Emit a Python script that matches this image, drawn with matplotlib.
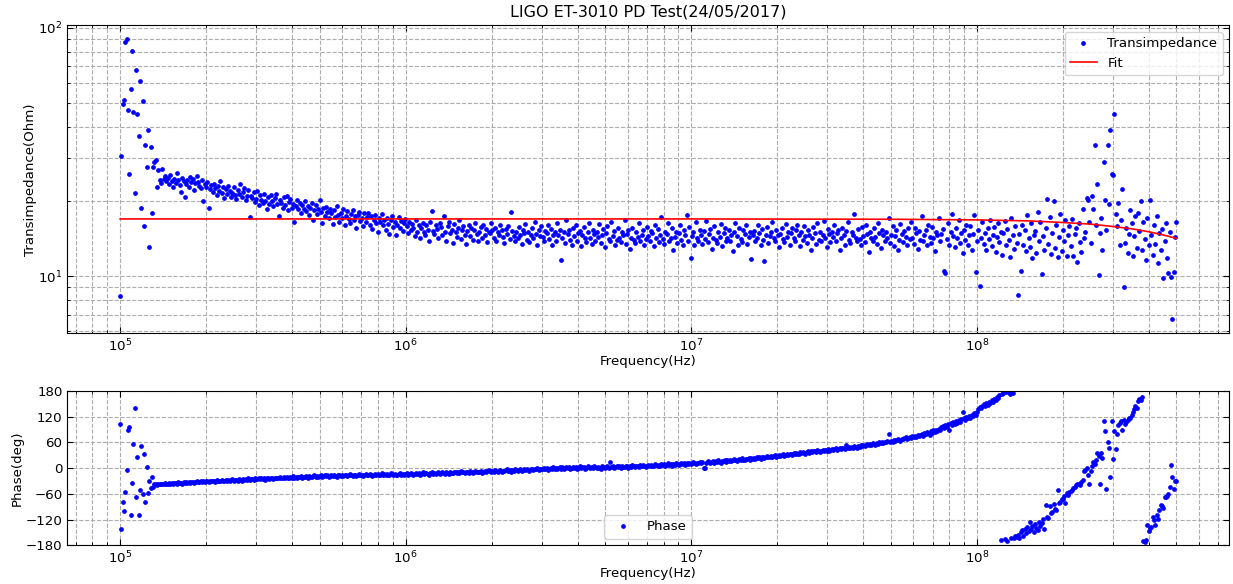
import numpy as np
import matplotlib
matplotlib.use("Agg")
import matplotlib.pyplot as plt

# ---------------- data ----------------
f_start, f_stop = 1e5, 5e8   # log sweep of the analyser

magnitude = [
    8.3, 30.5, 49.3, 51.4, 87.7, 90.0, 46.6, 25.8, 56.5, 80.9, 45.8, 21.7, 67.5, 44.9, 36.7, 61.4, 18.9, 50.7, 15.9, 33.8,
    27.4, 38.8, 13.1, 33.0, 18.0, 27.5, 28.9, 29.4, 22.8, 26.8, 24.5, 23.8, 27.0, 24.6, 25.3, 24.1, 24.8, 23.5, 25.6, 24.2,
    22.9, 24.7, 23.8, 26.0, 24.3, 23.3, 21.9, 24.8, 24.1, 20.9, 23.6, 24.4, 22.8, 25.1, 23.9, 24.6, 22.2, 23.7, 25.4, 24.0,
    23.1, 22.6, 24.3, 20.1, 23.5, 22.9, 24.0, 18.8, 22.4, 23.2, 21.8, 23.6, 22.7, 21.3, 23.0, 22.1, 24.2, 21.6, 22.9, 20.6,
    22.5, 21.4, 23.1, 22.0, 20.9, 21.7, 22.8, 21.2, 20.4, 22.3, 21.5, 23.5, 20.8, 21.9, 22.6, 20.2, 21.1, 22.2, 17.3, 21.0,
    20.7, 21.8, 19.9, 20.5, 22.0, 19.4, 21.2, 20.3, 19.8, 21.5, 20.1, 18.6, 20.9, 19.6, 21.3, 20.0, 19.2, 20.6, 21.4, 19.5,
    17.5, 20.2, 19.7, 18.9, 20.8, 19.3, 21.0, 18.4, 19.9, 20.4, 18.8, 19.5, 16.5, 19.1, 20.3, 18.6, 19.8, 17.9, 19.4, 18.7,
    20.1, 18.3, 19.2, 17.6, 18.9, 19.7, 16.9, 18.5, 19.3, 17.8, 18.6, 20.2, 18.1, 16.3, 18.8, 17.4, 19.0, 18.2, 17.1, 18.7,
    17.9, 16.2, 18.4, 17.3, 19.1, 17.7, 16.6, 18.0, 17.2, 18.6, 16.0, 17.5, 18.3, 17.0, 16.4, 17.8, 18.5, 16.8, 17.4, 15.6,
    17.6, 18.2, 16.7, 17.1, 15.9, 17.9, 16.5, 17.3, 18.0, 16.1, 17.4, 15.5, 16.9, 17.7, 16.3, 15.1, 17.2, 16.6, 17.8, 16.0,
    16.8, 15.4, 17.1, 16.2, 14.8, 16.9, 17.4, 15.8, 16.5, 14.6, 16.1, 17.3, 15.6, 16.7, 15.2, 16.4, 17.0, 15.9, 14.9, 16.6,
    15.3, 16.2, 15.7, 14.5, 16.8, 15.1, 16.0, 14.2, 15.6, 16.4, 15.0, 14.7, 16.1, 15.4, 13.9, 16.6, 18.3, 15.2, 14.8, 16.0,
    15.5, 14.3, 16.3, 15.8, 14.6, 17.4, 15.1, 13.8, 15.9, 16.5, 14.9, 15.3, 13.6, 16.2, 15.0, 14.4, 15.7, 16.8, 14.1, 15.4,
    15.9, 14.7, 13.5, 15.2, 16.0, 14.5, 15.6, 14.0, 15.3, 16.4, 14.8, 13.9, 15.1, 15.8, 14.3, 16.1, 14.6, 15.5, 13.7, 15.0,
    14.9, 16.3, 15.4, 14.2, 15.7, 13.8, 15.0, 14.6, 16.0, 15.3, 14.4, 13.6, 15.5, 14.8, 15.9, 14.1, 18.1, 15.2, 14.5, 13.9,
    15.1, 14.3, 15.8, 14.7, 13.5, 15.4, 14.9, 16.2, 14.0, 15.0, 13.7, 14.6, 15.6, 14.2, 16.5, 14.8, 13.4, 15.3, 14.5, 15.9,
    14.4, 13.8, 15.2, 14.9, 16.1, 14.1, 15.5, 13.3, 14.7, 15.0, 13.9, 16.3, 14.6, 15.4, 11.6, 14.3, 15.1, 13.6, 16.8, 14.8,
    15.3, 14.0, 13.4, 15.7, 14.5, 16.0, 13.8, 14.9, 15.2, 13.2, 14.6, 15.8, 14.3, 13.7, 15.0, 16.4, 14.2, 13.5, 15.4, 14.8,
    13.9, 15.1, 14.4, 16.2, 13.6, 14.7, 15.5, 13.1, 14.9, 15.9, 14.1, 13.8, 16.6, 14.5, 15.2, 13.4, 14.0, 15.6, 14.3, 13.7,
    15.0, 14.6, 16.9, 13.5, 14.8, 15.3, 12.9, 14.2, 15.7, 14.0, 13.6, 15.1, 14.4, 16.3, 13.9, 14.7, 15.4, 13.3, 14.1, 15.8,
    14.5, 13.8, 15.2, 14.9, 13.2, 16.0, 14.3, 15.5, 13.7, 14.6, 17.3, 14.1, 13.5, 15.0, 14.8, 16.4, 13.9, 14.2, 15.6, 12.8,
    14.4, 15.1, 13.6, 14.9, 16.1, 14.0, 13.4, 15.3, 14.7, 17.6, 13.8, 15.8, 11.8, 14.5, 15.0, 13.3, 16.5, 14.2, 13.9, 15.4,
    14.6, 13.5, 15.2, 14.1, 16.7, 13.7, 14.8, 15.5, 12.9, 14.3, 15.9, 14.0, 13.6, 15.1, 14.4, 16.2, 13.2, 14.9, 15.6, 13.8,
    14.2, 15.3, 13.9, 14.7, 12.6, 15.0, 16.3, 14.5, 13.4, 15.7, 14.1, 13.7, 15.4, 14.8, 16.0, 13.5, 14.4, 15.1, 11.7, 14.6,
    15.2, 13.8, 14.3, 16.1, 14.9, 13.3, 15.5, 14.0, 11.5, 14.7, 15.8, 13.6, 14.5, 15.0, 16.6, 14.2, 13.9, 15.3, 14.6, 13.1,
    14.8, 15.6, 14.1, 13.7, 16.2, 14.4, 15.0, 13.4, 14.9, 15.7, 14.3, 13.8, 15.4, 16.0, 14.6, 13.2, 15.1, 14.0, 15.9, 14.5,
    13.6, 15.3, 14.7, 12.8, 14.2, 15.8, 14.9, 13.5, 16.3, 14.0, 15.1, 13.9, 14.6, 16.7, 14.3, 13.1, 15.5, 14.8, 13.7, 15.0,
    14.4, 16.1, 13.8, 14.9, 15.4, 12.7, 14.2, 15.7, 14.6, 13.4, 15.2, 16.5, 14.0, 13.6, 15.0, 14.7, 17.8, 14.3, 13.9, 15.5,
    14.1, 13.3, 15.8, 14.5, 13.7, 16.0, 14.8, 12.5, 15.1, 14.2, 13.8, 15.6, 14.4, 13.5, 16.4, 14.9, 13.0, 15.3, 14.6, 13.9,
    15.0, 14.3, 17.1, 13.6, 14.7, 15.9, 13.2, 14.5, 15.4, 12.8, 14.0, 16.2, 14.8, 13.7, 15.2, 14.4, 13.4, 15.7, 14.1, 16.6,
    14.3, 13.5, 15.6, 14.9, 12.9, 15.2, 14.0, 17.5, 13.8, 14.6, 15.3, 13.3, 16.0, 14.4, 13.6, 15.8, 14.2, 12.6, 15.0, 14.7,
    17.2, 13.9, 14.8, 15.5, 10.5, 10.3, 14.1, 16.3, 13.4, 15.0, 17.8, 14.5, 13.1, 15.7, 14.2, 16.8, 13.6, 14.9, 12.4, 15.3,
    14.0, 16.1, 13.3, 14.6, 15.9, 12.7, 14.8, 17.6, 10.4, 13.8, 15.4, 9.1, 14.3, 16.5, 13.5, 14.9, 12.8, 15.6, 14.1, 16.9,
    13.2, 14.7, 15.8, 12.5, 14.4, 16.3, 13.7, 15.1, 12.2, 14.9, 16.7, 13.4, 15.5, 14.0, 11.9, 17.1, 14.6, 12.9, 15.9, 13.6,
    8.4, 14.8, 10.5, 16.0, 13.3, 15.4, 12.6, 17.6, 14.2, 13.1, 16.4, 11.8, 14.7, 15.2, 12.4, 18.1, 13.9, 16.6, 10.2, 14.5,
    12.7, 15.7, 20.4, 13.5, 17.3, 12.3, 14.9, 20.0, 13.0, 16.1, 11.9, 14.4, 17.8, 12.6, 15.3, 13.8, 16.8, 12.1, 14.6, 15.9,
    13.2, 17.0, 12.0, 14.8, 15.6, 11.4, 16.4, 13.7, 12.5, 18.6, 14.3, 15.1, 20.6, 20.3, 16.5, 13.6, 21.0, 18.6, 33.7, 16.0,
    23.6, 10.1, 14.9, 17.2, 12.8, 28.8, 20.3, 15.4, 33.7, 19.5, 38.8, 25.9, 25.5, 44.9, 17.8, 15.9, 19.7, 13.4, 16.9, 22.5,
    9.0, 13.6, 15.7, 12.4, 14.8, 18.4, 16.3, 12.1, 14.5, 17.5, 13.0, 18.0, 15.2, 20.1, 12.8, 16.6, 14.1, 11.6, 17.1, 13.3,
    20.3, 14.7, 12.2, 16.0, 13.5, 17.4, 11.3, 14.9, 12.7, 15.5, 9.8, 13.9, 16.3, 11.8, 10.3, 15.0, 9.9, 6.7, 10.4, 14.4,
    16.5,
]

phase = [
    103, -143, -79, -100, -56, -4, 88, 96, -110, -35, 56, 140, -68, 25, -110, -51, 52, -61, 32, -80,
    2, -58, -30, -47, -21, -45, -38, -37, -39, -36, -38, -37, -36, -38, -35, -37, -36, -34, -37, -35,
    -36, -34, -35, -36, -33, -35, -34, -36, -33, -34, -32, -35, -33, -34, -32, -33, -35, -32, -31, -33,
    -32, -31, -33, -30, -32, -31, -29, -32, -30, -31, -29, -30, -32, -28, -30, -29, -31, -28, -30, -29,
    -28, -30, -27, -29, -28, -26, -29, -27, -28, -30, -26, -27, -29, -25, -28, -26, -27, -24, -27, -26,
    -25, -27, -24, -26, -25, -23, -26, -24, -25, -22, -27, -24, -23, -25, -22, -24, -26, -23, -22, -24,
    -23, -21, -24, -22, -20, -23, -21, -24, -22, -20, -23, -19, -22, -21, -23, -20, -21, -19, -22, -20,
    -21, -19, -22, -18, -20, -21, -19, -17, -20, -18, -21, -19, -17, -20, -18, -16, -19, -17, -20, -18,
    -17, -19, -16, -18, -20, -17, -15, -18, -16, -19, -17, -15, -18, -16, -14, -17, -19, -15, -16, -18,
    -16, -14, -17, -15, -18, -16, -13, -15, -17, -14, -16, -18, -15, -13, -16, -14, -17, -15, -12, -15,
    -14, -16, -13, -17, -15, -12, -14, -16, -13, -15, -17, -14, -12, -15, -13, -16, -14, -11, -15, -13,
    -12, -14, -16, -13, -11, -14, -12, -15, -13, -10, -14, -12, -11, -13, -15, -12, -10, -13, -11, -14,
    -12, -10, -13, -11, -9, -12, -14, -10, -11, -13, -9, -11, -12, -8, -10, -12, -9, -11, -7, -10,
    -9, -11, -8, -10, -12, -7, -9, -11, -8, -6, -10, -8, -9, -7, -11, -8, -6, -9, -7, -5,
    -7, -9, -6, -8, -5, -7, -10, -6, -4, -8, -6, -7, -5, -3, -7, -5, -8, -4, -6, -3,
    -5, -7, -4, -2, -6, -4, -3, -5, -1, -4, -6, -2, -3, -5, -1, -3, 0, -4, -2, -1,
    -3, 0, -2, 1, -4, -1, 0, -3, 2, -1, 1, -2, 0, 3, -1, 2, -2, 1, 3, 0,
    2, -1, 1, 3, 0, 2, -2, 1, 4, 0, 2, 3, -1, 1, 4, 2, 0, 3, 1, 5,
    2, 0, 3, 1, -3, 4, 2, 0, 3, 5, 1, 14, 2, 4, 1, 3, 6, 2, 4, 1,
    5, 3, 2, 6, 4, 1, 5, 3, 7, 4, 2, 6, 5, 3, 7, 4, 8, 5, 3, 6,
    7, 5, 8, 4, 6, 9, 7, 5, 8, 6, 10, 7, 9, 5, 8, 11, 7, 9, 6, 10,
    8, 11, 9, 7, 10, 12, 9, 11, 8, 13, 10, 12, 9, 11, 14, 12, 10, 13, 11, 15,
    12, 14, 0, 1, 13, 16, 14, 12, 15, 17, 13, 16, 14, 18, 15, 13, 17, 16, 19, 15,
    18, 16, 20, 17, 19, 21, 18, 16, 20, 22, 19, 23, 20, 18, 22, 21, 24, 20, 23, 22,
    24, 21, 25, 23, 26, 22, 25, 27, 24, 26, 28, 25, 27, 29, 26, 28, 30, 27, 29, 31,
    28, 30, 32, 29, 31, 33, 30, 34, 32, 31, 35, 33, 36, 34, 32, 37, 35, 38, 36, 34,
    37, 39, 36, 40, 38, 41, 39, 37, 42, 40, 38, 41, 43, 39, 42, 40, 44, 41, 43, 45,
    42, 44, 46, 43, 45, 47, 44, 46, 48, 45, 53, 47, 49, 46, 50, 48, 51, 49, 47, 52,
    50, 53, 51, 55, 52, 54, 56, 53, 57, 55, 58, 56, 54, 59, 57, 60, 58, 61, 59, 62,
    60, 63, 80, 61, 64, 62, 66, 63, 65, 68, 66, 64, 69, 67, 70, 72, 68, 71, 73, 70,
    74, 72, 76, 73, 78, 75, 77, 80, 76, 82, 79, 84, 81, 78, 86, 83, 88, 85, 90, 87,
    92, 89, 95, 98, 93, 100, 97, 102, 88, 105, 101, 108, 104, 110, 106, 112, 108, 115, 130, 117,
    113, 119, 116, 122, 118, 125, 121, 128, 124, 131, 138, 142, 140, 146, 149, 145, 151, 148, 154, 152,
    158, 155, 162, 159, 166, 163, 170, -168, 172, 175, -166, 177, -170, 178, 174, -164, 176, -162, -158, -161,
    -156, -163, -150, -145, -159, -141, -152, -137, -146, -126, -143, -135, -148, -131, -139, -145, -125, -136, -128, -118,
    -141, -87, -113, -117, -88, -105, -103, -84, -96, -97, -51, -82, -80, -72, -71, -65, -81, -59, -62, -56,
    -54, -50, -47, -44, -40, -38, -36, -40, -33, -28, -7, -5, 1, -15, -36, -7, 6, 14, 10, 20,
    35, 29, -36, 35, 24, 110, 86, -48, 60, 47, -21, 110, 21, 87, 44, 79, 100, 105, 110, 90,
    113, 103, 107, 112, 118, 117, 124, 131, 137, 144, 140, 156, 161, 159, 167, -170, -172, -168, -132, -147,
    -140, -137, -113, -120, -132, -110, -118, -97, -86, -88, -92, -67, -68, -65, -60, -44, 8, -21, -49, -29,
    -30,
]

fit_freq = [1e5, 1e7, 5e7, 1e8, 1.5e8, 2e8, 2.5e8, 3e8, 3.5e8, 4e8, 4.5e8, 5e8]
fit_value = [17.0, 17.0, 16.95, 16.85, 16.7, 16.45, 16.2, 15.85, 15.5, 15.1, 14.65, 14.2]

phase_ticks = [-180, -120, -60, 0, 60, 120, 180]

freq_mag = np.geomspace(f_start, f_stop, len(magnitude))
freq_ph = np.geomspace(f_start, f_stop, len(phase))

# ---------------- figure ----------------
W, H = 1233, 584
fig = plt.figure(figsize=(W / 100, H / 100), dpi=100)

def box(l, t, r, b):
    return [l / W, 1 - b / H, (r - l) / W, (b - t) / H]

ax1 = fig.add_axes(box(67.3, 25.3, 1229.3, 333.3))
ax2 = fig.add_axes(box(67.3, 391, 1229.3, 545.3))

ax1.plot(freq_mag, magnitude, 'b.', markersize=4.8, label='Transimpedance')
ax1.plot(fit_freq, fit_value, 'r-', lw=1.2, label='Fit')
ax1.set_xscale('log')
ax1.set_yscale('log')
ax1.set_title('LIGO ET-3010 PD Test(24/05/2017)', fontsize=11.5)
ax1.set_ylabel('Transimpedance(Ohm)', fontsize=9.6, labelpad=1)
ax1.set_xlabel('Frequency(Hz)', fontsize=9.6, labelpad=0)
ax1.legend(loc='upper right', fontsize=9.6)

ax2.plot(freq_ph, phase, 'b.', markersize=4.8, label='Phase')
ax2.set_xscale('log')
ax2.set_ylim(-180, 180)
ax2.set_yticks(phase_ticks)
ax2.set_ylabel('Phase(deg)', fontsize=9.6, labelpad=1)
ax2.set_xlabel('Frequency(Hz)', fontsize=9.6, labelpad=0)
ax2.legend(loc='lower center', fontsize=9.6)

for ax in (ax1, ax2):
    ax.set_xlim(6.53e4, 7.66e8)
    ax.grid(True, which='both', linestyle='--', color='0.68', linewidth=0.8)
    ax.tick_params(which='both', direction='in', top=True, right=True, labelsize=9.6)
    ax.tick_params(which='major', length=4)
    ax.tick_params(which='minor', length=2)
    ax.set_axisbelow(True)

fig.savefig('out.png', dpi=100)
